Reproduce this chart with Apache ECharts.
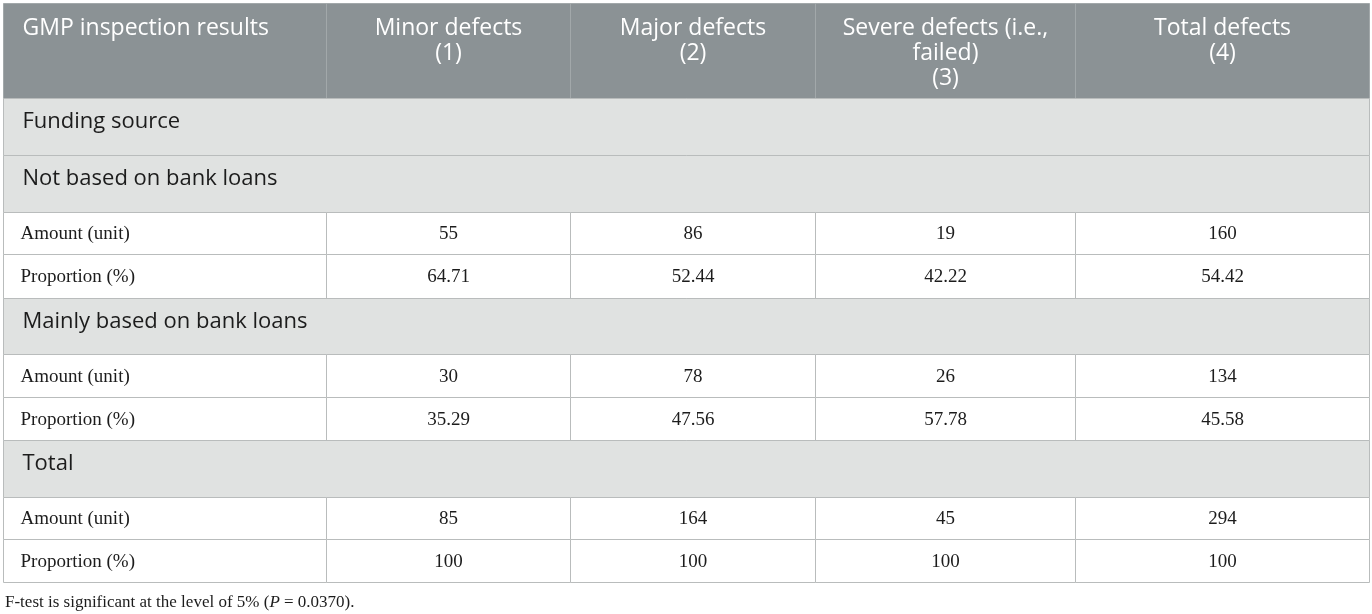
<!DOCTYPE html>
<html>
<head>
<meta charset="utf-8">
<title>GMP inspection results</title>
<script src="https://cdn.jsdelivr.net/npm/echarts@6/dist/echarts.min.js"></script>
<style>
	html, body { margin: 0; padding: 0; background: #fff; }
	#main { width: 1372px; height: 614px; }
</style>
</head>
<body>
	<div id="main"></div>
<script type="text/javascript">
	// table content
	var headers = ['GMP inspection results', 'Minor defects\n(1)', 'Major defects\n(2)', 'Severe defects (i.e.,\nfailed)\n(3)', 'Total defects\n(4)'];
	var groups = ['Funding source', 'Not based on bank loans', 'Mainly based on bank loans', 'Total'];
	var rowLabels = ['Amount (unit)', 'Proportion (%)'];
	var notBankAmount = [55, 86, 19, 160];
	var notBankProportion = ['64.71', '52.44', '42.22', '54.42'];
	var bankAmount = [30, 78, 26, 134];
	var bankProportion = ['35.29', '47.56', '57.78', '45.58'];
	var totalAmount = [85, 164, 45, 294];
	var totalProportion = ['100', '100', '100', '100'];

	// layout of the grid (pixel units of the hidden axes)
	var colEdges = [3, 326, 570, 815, 1075, 1369];
	var rowEdges = [3, 98, 155, 212, 254, 298, 354, 397, 440, 497, 539, 582];

	// build cell list: c0,c1 column span, r row index, kind
	var cells = [];
	for (var i = 0; i < headers.length; i++) {
		cells.push({ c0: i, c1: i + 1, r: 0, text: headers[i], kind: 'head' });
	}
	function addGroup(r, name) {
		cells.push({ c0: 0, c1: 5, r: r, text: name, kind: 'group' });
	}
	function addRow(r, label, vals) {
		cells.push({ c0: 0, c1: 1, r: r, text: label, kind: 'label' });
		for (var j = 0; j < vals.length; j++) {
			cells.push({ c0: j + 1, c1: j + 2, r: r, text: String(vals[j]), kind: 'value' });
		}
	}
	addGroup(1, groups[0]);
	addGroup(2, groups[1]);
	addRow(3, rowLabels[0], notBankAmount);
	addRow(4, rowLabels[1], notBankProportion);
	addGroup(5, groups[2]);
	addRow(6, rowLabels[0], bankAmount);
	addRow(7, rowLabels[1], bankProportion);
	addGroup(8, groups[3]);
	addRow(9, rowLabels[0], totalAmount);
	addRow(10, rowLabels[1], totalProportion);

	var sansFont = '"Open Sans", "Noto Sans", sans-serif';
	var serifFont = '"Liberation Serif", "DejaVu Serif", serif';

	function renderCell(params, api) {
		var cell = cells[params.dataIndex];
		var p0 = api.coord([colEdges[cell.c0], rowEdges[cell.r]]);
		var p1 = api.coord([colEdges[cell.c1], rowEdges[cell.r + 1]]);
		var x0 = Math.round(p0[0]) + 0.5, y0 = Math.round(p0[1]) + 0.5;
		var x1 = Math.round(p1[0]) + 0.5, y1 = Math.round(p1[1]) + 0.5;
		var fill = '#fff', stroke = '#b9bcbc';
		var txt;
		if (cell.kind == 'head') {
			fill = '#8b9295';
			stroke = '#a2a8aa';
			txt = {
				text: cell.text,
				x: cell.c0 == 0 ? x0 + 19 : (x0 + x1) / 2,
				y: y0 + 12,
				fill: '#fff',
				fontFamily: sansFont,
				fontSize: 23,
				lineHeight: 25,
				align: cell.c0 == 0 ? 'left' : 'center',
				verticalAlign: 'top'
			};
		} else if (cell.kind == 'group') {
			fill = '#e0e2e1';
			txt = {
				text: cell.text,
				x: x0 + 19,
				y: y0 + 23,
				fill: '#1c1c1c',
				fontFamily: sansFont,
				fontSize: 22,
				align: 'left',
				verticalAlign: 'middle'
			};
		} else {
			txt = {
				text: cell.text,
				x: cell.kind == 'label' ? x0 + 17 : (x0 + x1) / 2,
				y: (y0 + y1) / 2 + 1,
				fill: '#1c1c1c',
				fontFamily: serifFont,
				fontSize: 19,
				align: cell.kind == 'label' ? 'left' : 'center',
				verticalAlign: 'middle'
			};
		}
		return {
			type: 'group',
			children: [{
				type: 'rect',
				shape: { x: x0, y: y0, width: x1 - x0, height: y1 - y0 },
				style: { fill: fill, stroke: stroke, lineWidth: 1 }
			}, {
				type: 'text',
				style: txt
			}]
		};
	}

	var chart = echarts.init(document.getElementById('main'), null, { renderer: 'canvas' });
	var option = {
		animation: false,
		title: {
			left: 0,
			top: 589,
			// footnote under the table
			text: '{a|F-test is significant at the level of 5% (}{i|P}{a| = 0.0370).}',
			textStyle: {
				fontWeight: 'normal',
				rich: {
					a: { fontFamily: serifFont, fontSize: 17, fontWeight: 'normal', color: '#1c1c1c' },
					i: { fontFamily: serifFont, fontSize: 17, fontWeight: 'normal', fontStyle: 'italic', color: '#1c1c1c' }
				}
			}
		},
		grid: { left: 0, right: 0, top: 0, bottom: 0 },
		xAxis: { type: 'value', min: 0, max: 1372, show: false },
		yAxis: { type: 'value', min: 0, max: 614, inverse: true, show: false },
		series: [{
			type: 'custom',
			clip: false,
			silent: true,
			renderItem: renderCell,
			data: cells.map(function(c) { return [colEdges[c.c0], rowEdges[c.r]]; })
		}]
	};
	chart.setOption(option);
</script>
</body>
</html>
